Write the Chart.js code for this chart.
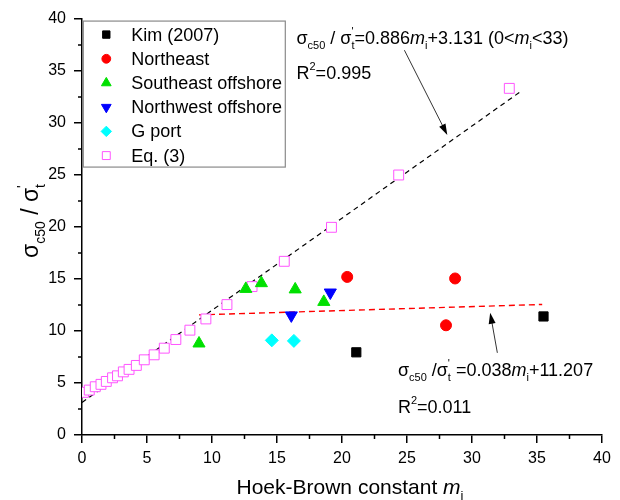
<!DOCTYPE html>
<html>
<head>
<meta charset="utf-8">
<script src="https://cdn.jsdelivr.net/npm/chart.js@4.4.0/dist/chart.umd.min.js"></script>
<style>
  html, body { margin: 0; background: #fff; }
</style>
</head>
<body>
<canvas id="HBChart" width="620" height="500"></canvas>
<script>
// measured points, x = Hoek-Brown m_i, y = sigma_c50 / sigma_t'
const kimX = [21.1, 35.5];
const kimY = [7.95, 11.4];
const northeastX = [20.4, 28.7, 28.0];
const northeastY = [15.2, 15.05, 10.55];
const southeastX = [9.0, 12.6, 13.8, 16.4, 18.6];
const southeastY = [8.8, 14.05, 14.6, 14.0, 12.8];
const northwestX = [16.1, 19.1];
const northwestY = [11.5, 13.7];
const gportX = [14.6, 16.3];
const gportY = [9.1, 9.05];
const eq3X = [0.12, 0.56, 1.02, 1.46, 1.87, 2.35, 2.73, 3.18, 3.62, 4.18, 4.79,
  5.55, 6.33, 7.22, 8.30, 9.53, 11.15, 13.08, 15.56, 19.19, 24.36, 32.87];
const eq3Y = [4.10, 4.32, 4.64, 4.87, 5.15, 5.50, 5.69, 6.07, 6.31, 6.69, 7.23,
  7.71, 8.35, 9.18, 10.08, 11.16, 12.54, 14.27, 16.70, 19.97, 25.0, 33.33];

// regression lines: [slope, intercept] and the m_i range they are drawn over
const upperFit = [0.886, 3.131];
const upperFitRange = [0, 33.7];
const lowerFit = [0.038, 11.207];
const lowerFitRange = [9, 35.4];

const FONT = '"Liberation Sans", Arial, sans-serif';

const pts = (xs, ys) => xs.map((x, i) => ({ x: x, y: ys[i] }));
const fitLine = (fit, range) => range.map(x => ({ x: x, y: fit[0] * x + fit[1] }));

const markers = [
  { label: 'Kim (2007)', data: pts(kimX, kimY), pointStyle: 'rect', radius: 6.5, bg: '#000', fg: '#000' },
  { label: 'Northeast', data: pts(northeastX, northeastY), pointStyle: 'circle', radius: 5.5, bg: '#ff0000', fg: '#ff0000' },
  { label: 'Southeast offshore', data: pts(southeastX, southeastY), pointStyle: 'triangle', radius: 7, bg: '#00e000', fg: '#00e000' },
  { label: 'Northwest offshore', data: pts(northwestX, northwestY), pointStyle: 'triangle', radius: 7, rotation: 180, bg: '#0000ff', fg: '#0000ff' },
  { label: 'G port', data: pts(gportX, gportY), pointStyle: 'rectRot', radius: 6.5, bg: '#00ffff', fg: '#00ffff' },
  { label: 'Eq. (3)', data: pts(eq3X, eq3Y), pointStyle: 'rect', radius: 7, bg: '#ffffff', fg: '#ff55ff' },
];

const datasets = markers.map((m, i) => ({
  label: m.label,
  data: m.data,
  showLine: false,
  pointStyle: m.pointStyle,
  pointRadius: m.radius,
  pointRotation: m.rotation || 0,
  pointBackgroundColor: m.bg,
  pointBorderColor: m.fg,
  pointBorderWidth: 1,
  order: i,
}));
datasets.push({
  label: 'fit-upper', data: fitLine(upperFit, upperFitRange), showLine: true,
  borderColor: '#000', borderWidth: 1.2, borderDash: [5, 4], pointRadius: 0, order: 10,
});
datasets.push({
  label: 'fit-lower', data: fitLine(lowerFit, lowerFitRange), showLine: true,
  borderColor: '#ff0000', borderWidth: 1.4, borderDash: [6, 4], pointRadius: 0, order: 10,
});

// text with subscripts / superscripts; parts: {t, i, sub, sup}
function richLayout(ctx, parts, size) {
  let w = 0;
  const small = Math.round(size * 0.6);
  parts.forEach(p => {
    ctx.font = (p.i ? 'italic ' : '') + size + 'px ' + FONT;
    p._w = ctx.measureText(p.t).width;
    ctx.font = small + 'px ' + FONT;
    p._sw = Math.max(p.sub ? ctx.measureText(p.sub).width : 0, p.sup ? ctx.measureText(p.sup).width : 0);
    w += p._w + p._sw;
  });
  return w;
}
function drawRich(ctx, parts, x, y, size, align) {
  const total = richLayout(ctx, parts, size);
  let cx = align === 'center' ? x - total / 2 : x;
  const small = Math.round(size * 0.6);
  ctx.textAlign = 'left';
  ctx.textBaseline = 'alphabetic';
  parts.forEach(p => {
    ctx.font = (p.i ? 'italic ' : '') + size + 'px ' + FONT;
    ctx.fillText(p.t, cx, y);
    cx += p._w;
    ctx.font = small + 'px ' + FONT;
    if (p.sub) ctx.fillText(p.sub, cx, y + size * 0.3);
    if (p.sup) ctx.fillText(p.sup, cx, y - size * 0.5);
    cx += p._sw;
  });
}

function arrow(ctx, x0, y0, x1, y1) {
  const a = Math.atan2(y1 - y0, x1 - x0);
  ctx.strokeStyle = '#333';
  ctx.fillStyle = '#000';
  ctx.lineWidth = 1;
  ctx.beginPath();
  ctx.moveTo(x0, y0);
  ctx.lineTo(x1 - 8 * Math.cos(a), y1 - 8 * Math.sin(a));
  ctx.stroke();
  ctx.beginPath();
  ctx.moveTo(x1, y1);
  ctx.lineTo(x1 - 11 * Math.cos(a) + 3.5 * Math.sin(a), y1 - 11 * Math.sin(a) - 3.5 * Math.cos(a));
  ctx.lineTo(x1 - 11 * Math.cos(a) - 3.5 * Math.sin(a), y1 - 11 * Math.sin(a) + 3.5 * Math.cos(a));
  ctx.closePath();
  ctx.fill();
}

const decor = {
  id: 'decor',
  afterDraw(chart) {
    const ctx = chart.ctx;
    const xs = chart.scales.x, ys = chart.scales.y;
    const X = v => xs.getPixelForValue(v), Y = v => ys.getPixelForValue(v);
    ctx.save();

    // minor ticks
    ctx.strokeStyle = '#000';
    ctx.lineWidth = 1.5;
    ctx.beginPath();
    for (let v = 2.5; v < 40; v += 5) {
      ctx.moveTo(X(v), ys.bottom); ctx.lineTo(X(v), ys.bottom + 4);
      ctx.moveTo(xs.left, Y(v)); ctx.lineTo(xs.left - 4, Y(v));
    }
    ctx.stroke();

    // legend box
    const lx = X(0.1), ly = Y(39.8);
    ctx.fillStyle = '#fff';
    ctx.fillRect(lx, ly, 202, 146);
    ctx.strokeStyle = '#8a8a8a';
    ctx.lineWidth = 1.2;
    ctx.strokeRect(lx, ly, 202, 146);
    markers.forEach((m, i) => {
      const cy = ly + 13.5 + i * 24.2;
      ctx.fillStyle = m.bg;
      ctx.strokeStyle = m.fg;
      ctx.lineWidth = 1;
      Chart.helpers.drawPoint(ctx, {
        pointStyle: m.pointStyle, radius: m.radius * 0.8, rotation: m.rotation || 0, borderWidth: 1,
      }, lx + 23, cy);
      ctx.fillStyle = '#000';
      ctx.font = '18px ' + FONT;
      ctx.textAlign = 'left';
      ctx.textBaseline = 'middle';
      ctx.fillText(m.label, lx + 48, cy + 1);
    });

    // equation notes
    ctx.fillStyle = '#000';
    drawRich(ctx, [{ t: 'σ', sub: 'c50' }, { t: ' / σ', sub: 't', sup: "'" }, { t: '=0.886' },
      { t: 'm', i: 1, sub: 'i' }, { t: '+3.131 (0<' }, { t: 'm', i: 1, sub: 'i' }, { t: '<33)' }],
      X(16.5), Y(37.6), 18);
    drawRich(ctx, [{ t: 'R', sup: '2' }, { t: '=0.995' }], X(16.5), Y(34.2), 18);
    drawRich(ctx, [{ t: 'σ', sub: 'c50' }, { t: ' /σ', sub: 't', sup: "'" }, { t: ' =0.038' },
      { t: 'm', i: 1, sub: 'i' }, { t: '+11.207' }], X(24.3), Y(5.7), 18);
    drawRich(ctx, [{ t: 'R', sup: '2' }, { t: '=0.011' }], X(24.3), Y(2.1), 18);

    arrow(ctx, X(24.8), Y(37.0), X(28.1), Y(28.85));
    arrow(ctx, X(31.95), Y(7.9), X(31.4), Y(11.75));

    // axis titles
    ctx.fillStyle = '#000';
    drawRich(ctx, [{ t: 'Hoek-Brown constant ' }, { t: 'm', i: 1, sub: 'i' }], 350, 494, 21, 'center');
    ctx.translate(38, 221);
    ctx.rotate(-Math.PI / 2);
    drawRich(ctx, [{ t: 'σ', sub: 'c50' }, { t: ' / σ', sub: 't', sup: "'" }], 0, 0, 23, 'center');
    ctx.restore();
  }
};

new Chart(document.getElementById('HBChart'), {
  type: 'scatter',
  data: { datasets: datasets },
  options: {
    responsive: false,
    animation: false,
    layout: { padding: { top: 19, right: 18, left: 0, bottom: 0 } },
    plugins: { legend: { display: false }, tooltip: { enabled: false } },
    scales: {
      x: {
        type: 'linear', min: 0, max: 40,
        ticks: { stepSize: 5, color: '#000', font: { family: FONT, size: 16 }, padding: 6 },
        grid: { drawOnChartArea: false, drawTicks: true, tickLength: 8, color: '#000', lineWidth: 1.5 },
        border: { color: '#000', width: 1.5 },
        afterFit: s => { s.height = 65; },
      },
      y: {
        type: 'linear', min: 0, max: 40,
        ticks: { stepSize: 5, color: '#000', font: { family: FONT, size: 16 }, padding: 8 },
        grid: { drawOnChartArea: false, drawTicks: true, tickLength: 8, color: '#000', lineWidth: 1.5 },
        border: { color: '#000', width: 1.5 },
        afterFit: s => { s.width = 82; },
      },
    },
  },
  plugins: [decor],
});
</script>
</body>
</html>
